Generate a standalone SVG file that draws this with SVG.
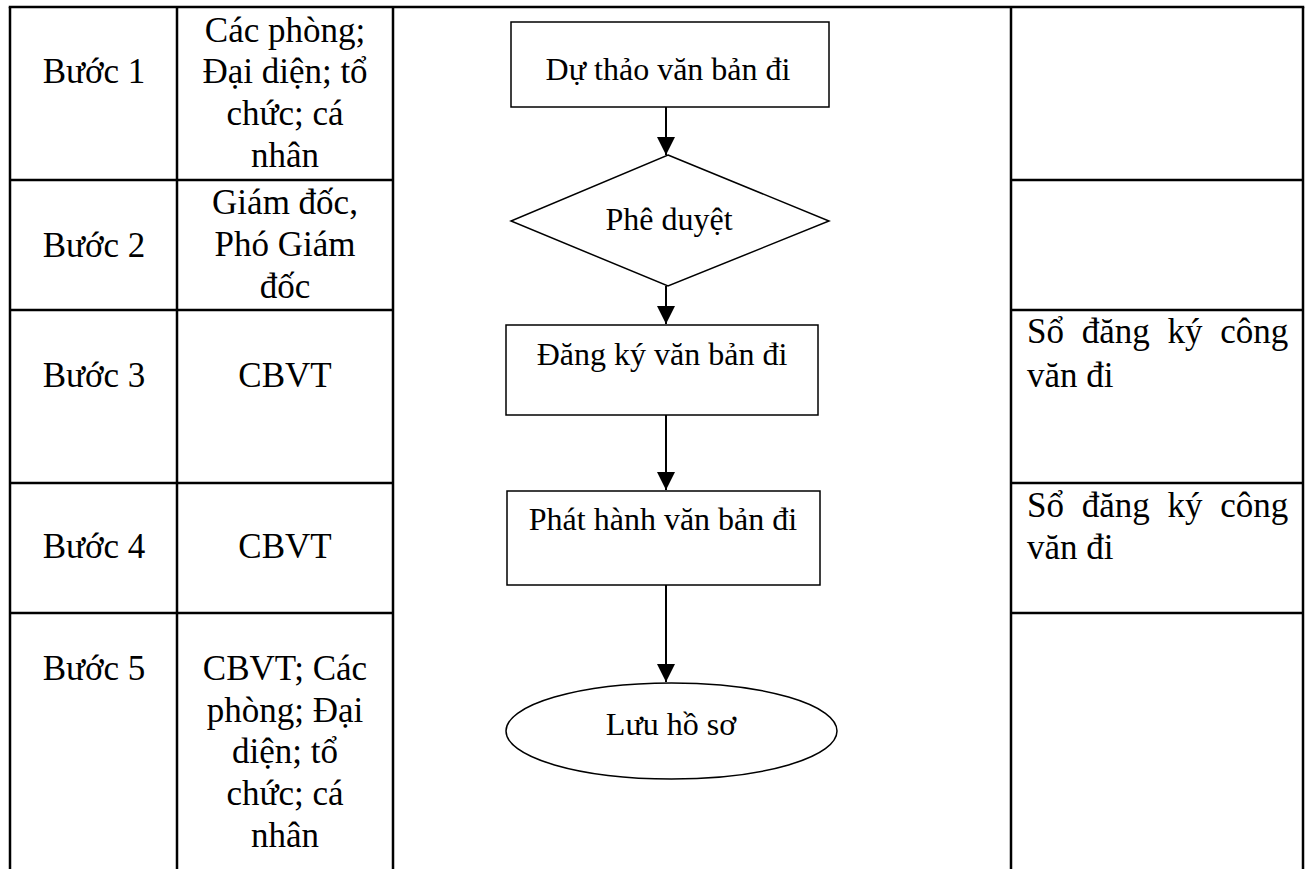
<svg xmlns="http://www.w3.org/2000/svg" width="1310" height="869" viewBox="0 0 1310 869">
<style>
.grid{stroke:#000;stroke-width:2.5;fill:none}
.shape{stroke:#000;stroke-width:1.5;fill:#fff}
.conn{stroke:#000;stroke-width:2;fill:none}
.t{font-family:"Liberation Serif","Times New Roman",serif;font-size:35px;fill:#000}
.c{text-anchor:middle}
.f{font-family:"Liberation Serif","Times New Roman",serif;font-size:32px;fill:#000;text-anchor:middle}
</style>
<defs>
<marker id="ah" markerUnits="userSpaceOnUse" markerWidth="20" markerHeight="20" refX="18" refY="9" orient="auto">
<path d="M0,0 L18,9 L0,18 Z" fill="#000"/>
</marker>
</defs>
<rect width="1310" height="869" fill="#fff"/>
<g id="table">
<line class="grid" x1="8.75" y1="7" x2="1304.25" y2="7"/>
<line class="grid" x1="10" y1="7" x2="10" y2="869"/>
<line class="grid" x1="177" y1="7" x2="177" y2="869"/>
<line class="grid" x1="393" y1="7" x2="393" y2="869"/>
<line class="grid" x1="1011" y1="7" x2="1011" y2="869"/>
<line class="grid" x1="1303" y1="7" x2="1303" y2="869"/>
<line class="grid" x1="10" y1="180" x2="393" y2="180"/>
<line class="grid" x1="10" y1="310" x2="393" y2="310"/>
<line class="grid" x1="10" y1="483" x2="393" y2="483"/>
<line class="grid" x1="10" y1="613" x2="393" y2="613"/>
<line class="grid" x1="1011" y1="180" x2="1303" y2="180"/>
<line class="grid" x1="1011" y1="310" x2="1303" y2="310"/>
<line class="grid" x1="1011" y1="483" x2="1303" y2="483"/>
<line class="grid" x1="1011" y1="613" x2="1303" y2="613"/>
</g>
<g id="steps">
<text class="t c" x="94" y="83">Bước 1</text>
<text class="t c" x="94" y="257">Bước 2</text>
<text class="t c" x="94" y="387">Bước 3</text>
<text class="t c" x="94" y="558">Bước 4</text>
<text class="t c" x="94" y="680">Bước 5</text>
</g>
<g id="actors">
<text class="t c" x="285" y="42">Các phòng;</text>
<text class="t c" x="285" y="83">Đại diện; tổ</text>
<text class="t c" x="285" y="125">chức; cá</text>
<text class="t c" x="285" y="167">nhân</text>
<text class="t c" x="285" y="214">Giám đốc,</text>
<text class="t c" x="285" y="256">Phó Giám</text>
<text class="t c" x="285" y="298">đốc</text>
<text class="t c" x="285" y="387">CBVT</text>
<text class="t c" x="285" y="558">CBVT</text>
<text class="t c" x="285" y="680">CBVT; Các</text>
<text class="t c" x="285" y="722">phòng; Đại</text>
<text class="t c" x="285" y="763">diện; tổ</text>
<text class="t c" x="285" y="805">chức; cá</text>
<text class="t c" x="285" y="847">nhân</text>
</g>
<g id="records">
<text class="t" x="1027" y="343" word-spacing="9">Sổ đăng ký công</text>
<text class="t" x="1027" y="387">văn đi</text>
<text class="t" x="1027" y="517" word-spacing="9">Sổ đăng ký công</text>
<text class="t" x="1027" y="559">văn đi</text>
</g>
<g id="connectors">
<line class="conn" x1="666" y1="107" x2="666" y2="155" marker-end="url(#ah)"/>
<line class="conn" x1="666" y1="286" x2="666" y2="324" marker-end="url(#ah)"/>
<line class="conn" x1="666" y1="415" x2="666" y2="490" marker-end="url(#ah)"/>
<line class="conn" x1="666" y1="585" x2="666" y2="682" marker-end="url(#ah)"/>
</g>
<g id="n1">
<rect class="shape" x="511" y="22" width="318" height="85"/>
<text class="f" x="668" y="80">Dự thảo văn bản đi</text>
</g>
<g id="n2">
<polygon class="shape" points="668,155 829,221 668,286 511,221"/>
<text class="f" x="669" y="230">Phê duyệt</text>
</g>
<g id="n3">
<rect class="shape" x="506" y="325" width="312" height="90"/>
<text class="f" x="662" y="365">Đăng ký văn bản đi</text>
</g>
<g id="n4">
<rect class="shape" x="507" y="491" width="313" height="94"/>
<text class="f" x="663" y="530">Phát hành văn bản đi</text>
</g>
<g id="n5">
<ellipse class="shape" cx="671.5" cy="731" rx="165.5" ry="48"/>
<text class="f" x="671" y="735">Lưu hồ sơ</text>
</g>
</svg>
